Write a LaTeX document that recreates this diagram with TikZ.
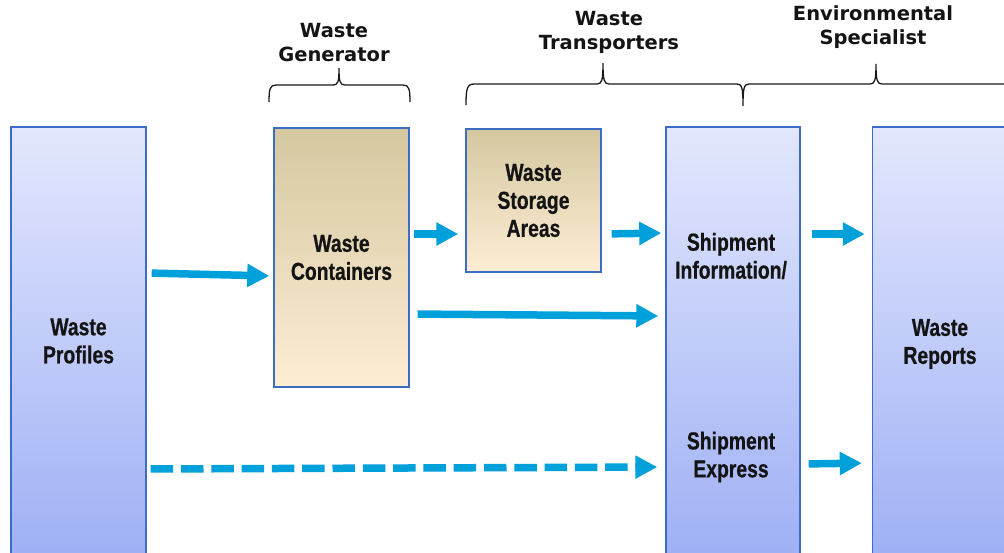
\documentclass[tikz,border=0pt]{standalone}
\usepackage{fontspec}
\usetikzlibrary{arrows.meta}
\newfontfamily\boxfont[FakeStretch=0.79,FakeBold=0.6]{Liberation Sans Bold}
\newfontfamily\headfont{DejaVu Sans Bold}
\definecolor{flowblue}{RGB}{0,160,218}
\definecolor{edgeblue}{RGB}{60,108,196}
\definecolor{lilactop}{RGB}{227,231,253}
\definecolor{lilacbot}{RGB}{158,176,245}
\definecolor{tantop}{RGB}{212,200,160}
\definecolor{tanbot}{RGB}{253,237,212}
\definecolor{textgray}{RGB}{20,20,20}
\tikzset{
  stage/.style={draw=edgeblue, line width=1.4pt, inner sep=0pt, minimum width=135pt,
    top color=lilactop, bottom color=lilacbot, align=center,
    font=\boxfont\fontsize{24.5}{28}\selectfont, text=textgray},
  store/.style={stage, top color=tantop, bottom color=tanbot},
  boxtext/.style={align=center, inner sep=0pt, font=\boxfont\fontsize{24.5}{28}\selectfont, text=textgray},
  role/.style={align=center, inner sep=0pt, font=\headfont\fontsize{19.5}{24}\selectfont, text=textgray},
  flow/.style={draw=flowblue, line width=7.5pt,
    -{Triangle[width=22pt,length=22pt]}, color=flowblue},
  dashflow/.style={flow, dash pattern=on 22.5pt off 7.8pt},
  bracket/.style={draw=black!90, line width=1.3pt}
}
\begin{document}
\begin{tikzpicture}[x=1pt,y=-1pt]
\useasboundingbox (0,0) rectangle (1004,552);
\clip (0,0) rectangle (1004,552);

% stage boxes
\node[stage, minimum height=432pt] (prof) at (78.5,343) {};
\node[store, minimum height=259pt] (cont) at (341.5,257.5) {Waste\\Containers};
\node[store, minimum height=143pt] (stor) at (533.5,200.5) {Waste\\Storage\\Areas};
\node[stage, minimum width=134pt, minimum height=432pt] (ship) at (733,343) {};
\node[stage, minimum width=140pt, minimum height=432pt] (rep) at (942.5,343) {};
\node[boxtext] (proftext) at (78.5,341) {Waste\\Profiles};
\node[boxtext] (reptext) at (940,344) {Waste\\Reports};
\node[boxtext] (shipinfo) at (731,256) {Shipment\\Information/};
\node[boxtext] (shipexp) at (731,457) {Shipment\\Express};

% role headings
\node[role] (gen) at (334,43) {Waste\\Generator};
\node[role] (trans) at (609,32) {Waste\\Transporters};
\node[role] (env) at (873,27) {Environmental\\Specialist};

% grouping braces
\draw[bracket] (269,102) .. controls (269,89) and (270,85) .. (276,85)
  -- (333,85) .. controls (338,85) and (339,82) .. (339,68)
  .. controls (339,82) and (340,85) .. (345,85)
  -- (403,85) .. controls (409,85) and (410,89) .. (410,102);
\draw[bracket] (466,105) .. controls (466,89) and (467,84) .. (474,84)
  -- (597,84) .. controls (602,84) and (603,80) .. (603,63)
  .. controls (603,80) and (604,84) .. (609,84)
  -- (737,84) .. controls (742,84) and (743,88) .. (743,106)
  .. controls (743,88) and (744,84) .. (749,84)
  -- (870,84) .. controls (875,84) and (876,80) .. (876,64)
  .. controls (876,80) and (877,84) .. (882,84)
  -- (1010,84);

% flows between stages
\draw[flow, shorten <=5pt, shorten >=4pt] (prof.east |- 0,273) -- (cont.west |- 0,276);
\draw[flow, shorten <=4pt, shorten >=7pt] (cont.east |- 0,234) -- (stor.west |- 0,234);
\draw[flow, shorten <=10pt, shorten >=4pt] (stor.east |- 0,234) -- (ship.west |- 0,233);
\draw[flow, shorten <=8pt, shorten >=7pt] (cont.east |- 0,314) -- (ship.west |- 0,316);
\draw[flow, shorten <=11pt, shorten >=7pt] (ship.east |- 0,234) -- (rep.west |- 0,234);
\draw[dashflow, shorten <=4pt, shorten >=8pt] (prof.east |- 0,469) -- (ship.west |- 0,467);
\draw[flow, shorten <=8pt, shorten >=10pt] (ship.east |- 0,464) -- (rep.west |- 0,463);
\end{tikzpicture}
\end{document}
